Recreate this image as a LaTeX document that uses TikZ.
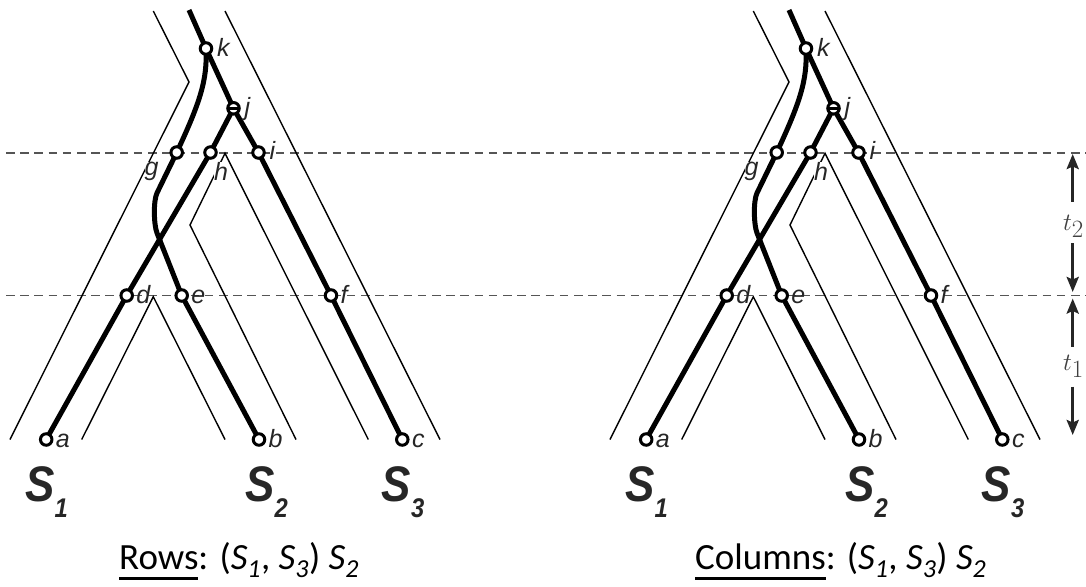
\documentclass[tikz,border=0pt]{standalone}
\usepackage{fontspec}
\setmainfont{Carlito}
\newfontfamily\labfont{Liberation Sans}
\usetikzlibrary{arrows.meta}
\pgfdeclarelayer{bg}
\pgfsetlayers{bg,main}
\definecolor{labc}{HTML}{262626}
\definecolor{dashc}{HTML}{555555}
\definecolor{tc}{HTML}{404040}
\newcommand\ulx[1]{\setbox0\hbox{#1}\rlap{\rule[-10.2pt]{\wd0}{2.4pt}}#1}
\newcommand\subi[1]{\textsubscript{\itshape #1}}
\newcommand\spname[1]{\scalebox{0.88}[1]{S\raisebox{-15.6pt}{\fontsize{27}{27}\selectfont #1}}}
\tikzset{
 gnode/.style={circle, draw=black, fill=white, line width=3pt, minimum size=11.5pt, inner sep=0pt},
 gline/.style={line width=5pt, line join=round},
 sline/.style={line width=1.4pt},
 glab/.style={font=\labfont\itshape\fontsize{25}{25}\selectfont, text=labc, inner sep=0pt},
 slab/.style={font=\labfont\bfseries\itshape\fontsize{50}{50}\selectfont, text=labc, inner sep=0pt, anchor=base west},
 caplab/.style={font=\fontsize{37}{37}\selectfont, inner sep=0pt, anchor=base west},
 tlab/.style={font=\fontsize{33}{33}\selectfont, text=tc, inner sep=0pt, anchor=base},
 dashline/.style={draw=dashc, line width=1.7pt, dash pattern=on 8.5pt off 5.7pt},
 tarrow/.style={line width=3pt, draw=black!85, -{Stealth[length=15pt,width=12pt,inset=2.5pt]}}
}
\begin{document}
\begin{tikzpicture}[x=1pt,y=-1pt]
\path[use as bounding box] (0,0) rectangle (1086,586);
% dashed time lines
\coordinate (dl1) at (6,153.3);  \coordinate (dr1) at (1086,153.3);
\coordinate (dl2) at (6,295.5);  \coordinate (dr2) at (1086,295.5);
\begin{pgfonlayer}{bg}
\draw[dashline] (dl1) -- (dr1);
\draw[dashline] (dl2) -- (dr2);
\end{pgfonlayer}
\foreach \sx in {0,600}{
\begin{scope}[xshift=\sx pt]
 \node[gnode] (k) at (206,48.5) {};
 \node[gnode] (j) at (233.5,108.3) {};
 \node[gnode] (g) at (176.7,152.5) {};
 \node[gnode] (h) at (210.5,152.5) {};
 \node[gnode] (i) at (258.5,152.5) {};
 \node[gnode] (d) at (126.7,295.5) {};
 \node[gnode] (e) at (181.7,295.5) {};
 \node[gnode] (f) at (331,295.5) {};
 \node[gnode] (a) at (46.2,439.5) {};
 \node[gnode] (b) at (259,439.5) {};
 \node[gnode] (c) at (402.3,439.5) {};
 \coordinate (top) at (189,10);
 \draw[line width=2.8pt] ([xshift=-5.5pt]j.center) -- ([xshift=5.5pt]j.center);
 \begin{pgfonlayer}{bg}
  % species tree outline
  \draw[sline] (10,439.5) -- (189,82) -- (153.3,11);
  \draw[sline] (225,11) -- (440,439.5);
  \draw[sline] (81.7,439.5) -- (153.3,296.7) -- (225,439.5);
  \draw[sline] (296,439.5) -- (190,225) -- (225,153.3) -- (368.3,439.5);
  % gene tree
  \draw[gline] (top) -- (k.center) -- (j.center) -- (i.center) -- (f.center) -- (c.center);
  \draw[gline] (j.center) -- (h.center) -- (d.center) -- (a.center);
  \draw[gline] (e.center) -- (b.center);
  \draw[gline] (k.center) .. controls (207.5,80) and (200,102.5) .. (g.center)
     -- (157,193) .. controls (153.2,201) and (153.8,225) .. (157,233) -- (e.center);
 \end{pgfonlayer}
 % labels
 \node[glab, anchor=base west] (lk) at ([shift={(11,8)}]k.center) {k};
 \node[glab, anchor=base west] (lj) at ([shift={(11,7)}]j.center) {j};
 \node[glab, anchor=base west] (li) at ([shift={(11,7)}]i.center) {i};
 \node[glab, anchor=base east, fill=white] (lg) at ([shift={(-18,23)}]g.center) {g};
 \node[glab, anchor=base west, fill=white] (lh) at ([shift={(3.5,27.5)}]h.center) {h};
 \node[glab, anchor=base west] (ld) at ([shift={(9.5,7.5)}]d.center) {d};
 \node[glab, anchor=base west] (le) at ([shift={(9.5,7.5)}]e.center) {e};
 \node[glab, anchor=base west] (lf) at ([shift={(9.5,7.5)}]f.center) {f};
 \node[glab, anchor=base west] (la) at ([shift={(9.5,7.5)}]a.center) {a};
 \node[glab, anchor=base west] (lb) at ([shift={(9.5,7.5)}]b.center) {b};
 \node[glab, anchor=base west] (lc) at ([shift={(9.5,7.5)}]c.center) {c};
 % species names
 \node[slab] (s1) at (25,501.7) {\spname{1}};
 \node[slab] (s2) at (245,501.7) {\spname{2}};
 \node[slab] (s3) at (381.5,501.7) {\spname{3}};
\end{scope}
}
% captions
\node[caplab] (capL) at (119,569.3) {\ulx{Rows}: (\textit{S}\subi{1}, \textit{S}\subi{3}) \textit{S}\subi{2}};
\node[caplab] (capR) at (695,569.3) {\ulx{Columns}: (\textit{S}\subi{1}, \textit{S}\subi{3}) \textit{S}\subi{2}};
% time arrows
\node[tlab] (t2) at (1073.5,230) {$t_2$};
\node[tlab] (t1) at (1073.5,370.5) {$t_1$};
\coordinate (u2s) at (1072.7,201.7); \coordinate (u2e) at (1072.7,154);
\coordinate (d2s) at (1072.7,243);   \coordinate (d2e) at (1072.7,292);
\coordinate (u1s) at (1072.7,346.7); \coordinate (u1e) at (1072.7,298.5);
\coordinate (d1s) at (1072.7,386.7); \coordinate (d1e) at (1072.7,435);
\draw[tarrow] (u2s) -- (u2e);
\draw[tarrow] (d2s) -- (d2e);
\draw[tarrow] (u1s) -- (u1e);
\draw[tarrow] (d1s) -- (d1e);
\end{tikzpicture}
\end{document}
